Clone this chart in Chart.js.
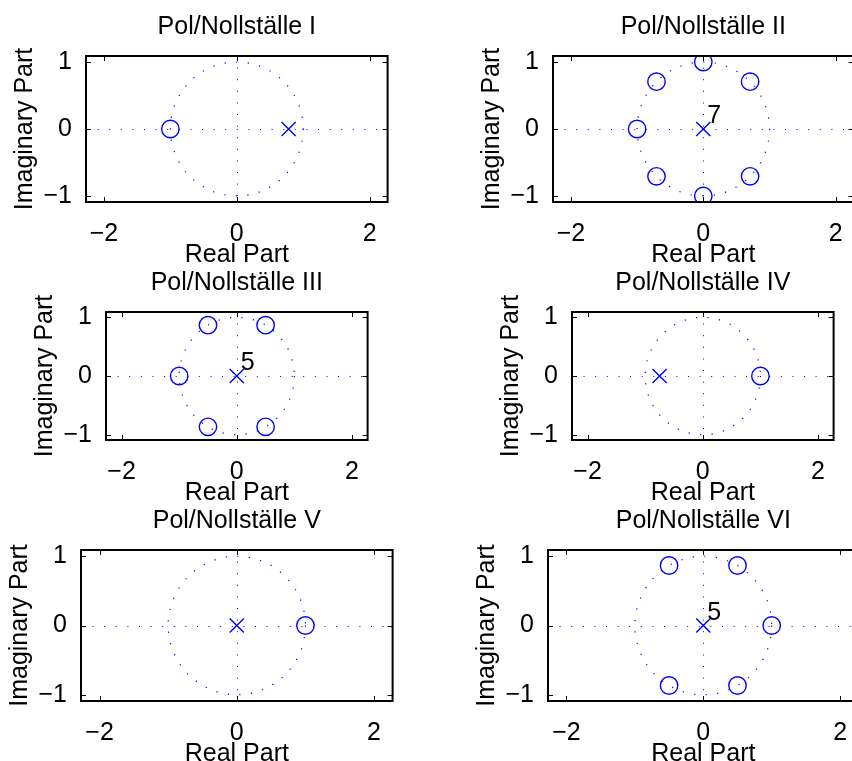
<!DOCTYPE html>
<html>
<head>
<meta charset="utf-8">
<script src="https://cdn.jsdelivr.net/npm/chart.js@4.4.0/dist/chart.umd.min.js"></script>
<style>
  html, body { margin: 0; padding: 0; background: #fff; overflow: hidden; }
  body { width: 852px; height: 761px; position: relative; }
  canvas { position: absolute; }
</style>
</head>
<body>
<canvas id="p0"></canvas>
<canvas id="p1"></canvas>
<canvas id="p2"></canvas>
<canvas id="p3"></canvas>
<canvas id="p4"></canvas>
<canvas id="p5"></canvas>
<script>
const titles = [
  "Pol/Nollställe I", "Pol/Nollställe II", "Pol/Nollställe III",
  "Pol/Nollställe IV", "Pol/Nollställe V", "Pol/Nollställe VI"
];
const xTicks = [-2, 0, 2];
const yTicks = [-1, 0, 1];
const xLimit = 2.27;
const yLimit = 1.09;
const unitRadius = 1;

// zeros (o), real and imaginary parts, one list per plot
const zerosRe = [
  [-1],
  [0, 0.707, -0.707, -1, -0.707, 0.707, 0],
  [0.5, -0.5, -1, -0.5, 0.5],
  [1],
  [1],
  [1, 0.5, -0.5, -0.5, 0.5]
];
const zerosIm = [
  [0],
  [1, 0.707, 0.707, 0, -0.707, -0.707, -1],
  [0.866, 0.866, 0, -0.866, -0.866],
  [0],
  [0],
  [0, 0.866, 0.866, -0.866, -0.866]
];
// poles (x)
const polesRe = [[0.78], [0], [0], [-0.75], [0], [0]];
const polesIm = [[0], [0], [0], [0], [0], [0]];
const poleMultiplicity = ["", "7", "5", "", "", "5"];

// plot box of every axes on the page: left, top, width, height
const boxes = [
  [86, 56, 303, 146], [553, 56, 302, 146],
  [106, 312, 263, 128], [572, 312, 263, 128],
  [81, 550, 313, 151], [548, 550, 312, 151]
];
const yAxisWidth = 80, xAxisHeight = 70, titleHeight = 49, rightPad = 10;
const fontSize = 25;

Chart.defaults.font.family = "'Liberation Sans', Arial, Helvetica, sans-serif";
Chart.defaults.font.size = fontSize;
Chart.defaults.color = "#000";

const dotted = [1.2, 10.4];

const zplane = {
  id: "zplane",
  beforeDatasetsDraw(chart) {
    const { ctx, chartArea: a, scales: { x, y } } = chart;
    const x0 = x.getPixelForValue(0), y0 = y.getPixelForValue(0);
    ctx.save();
    ctx.beginPath();
    ctx.rect(a.left, a.top, a.width, a.height);
    ctx.clip();
    ctx.strokeStyle = "blue";
    ctx.lineWidth = 1.2;
    ctx.setLineDash(dotted);
    // unit circle
    ctx.beginPath();
    ctx.ellipse(x0, y0, x.getPixelForValue(unitRadius) - x0, y0 - y.getPixelForValue(unitRadius), 0, 0, Math.PI * 2);
    ctx.stroke();
    // real and imaginary axes, snapped to the pixel grid
    const hx = Math.round(x0) + 0.5, hy = Math.round(y0) + 0.5;
    ctx.lineWidth = 1;
    ctx.setLineDash([1, 10.6]);
    ctx.beginPath();
    ctx.moveTo(a.left, hy); ctx.lineTo(a.right, hy);
    ctx.moveTo(hx, a.top); ctx.lineTo(hx, a.bottom);
    ctx.stroke();
    ctx.restore();
  },
  afterDatasetsDraw(chart, args, opts) {
    const { ctx, chartArea: a, scales: { x, y } } = chart;
    ctx.save();
    ctx.strokeStyle = "#000";
    ctx.lineWidth = 1;
    ctx.beginPath();
    xTicks.forEach(v => {
      const p = Math.round(x.getPixelForValue(v)) + 0.5;
      ctx.moveTo(p, a.bottom); ctx.lineTo(p, a.bottom - 5);
      ctx.moveTo(p, a.top); ctx.lineTo(p, a.top + 5);
    });
    yTicks.forEach(v => {
      const p = Math.round(y.getPixelForValue(v)) + 0.5;
      ctx.moveTo(a.left, p); ctx.lineTo(a.left + 5, p);
      ctx.moveTo(a.right, p); ctx.lineTo(a.right - 5, p);
    });
    ctx.stroke();
    ctx.lineWidth = 2;
    ctx.strokeRect(a.left, a.top, a.width, a.height);
    // multiplicity of the pole
    if (opts.label) {
      ctx.fillStyle = "#000";
      ctx.font = fontSize + "px 'Liberation Sans', Arial, sans-serif";
      ctx.textAlign = "left";
      ctx.textBaseline = "alphabetic";
      ctx.fillText(opts.label, x.getPixelForValue(opts.re) + 4, y.getPixelForValue(opts.im) - 6);
    }
    ctx.restore();
  }
};

const minusLabel = v => (v < 0 ? "\u2212" + (-v) : String(v));

titles.forEach((title, i) => {
  const [L, T, W, H] = boxes[i];
  const canvas = document.getElementById("p" + i);
  canvas.width = W + yAxisWidth + rightPad;
  canvas.height = H + titleHeight + xAxisHeight;
  canvas.style.left = (L - yAxisWidth) + "px";
  canvas.style.top = (T - titleHeight) + "px";

  new Chart(canvas.getContext("2d"), {
    type: "scatter",
    data: {
      datasets: [
        {
          label: "Zeros",
          data: zerosRe[i].map((re, j) => ({ x: re, y: zerosIm[i][j] })),
          pointStyle: "circle",
          pointRadius: 8.7,
          pointBorderWidth: 1.4,
          borderColor: "blue",
          backgroundColor: "rgba(0,0,0,0)"
        },
        {
          label: "Poles",
          data: polesRe[i].map((re, j) => ({ x: re, y: polesIm[i][j] })),
          pointStyle: "crossRot",
          pointRadius: 10,
          pointBorderWidth: 1.4,
          borderColor: "blue",
          backgroundColor: "rgba(0,0,0,0)"
        }
      ]
    },
    options: {
      responsive: false,
      animation: false,
      events: [],
      layout: { padding: { right: rightPad } },
      scales: {
        x: {
          type: "linear",
          min: -xLimit,
          max: xLimit,
          grid: { display: false },
          border: { display: false },
          afterBuildTicks: s => { s.ticks = xTicks.map(v => ({ value: v })); },
          afterFit: s => { s.height = xAxisHeight; },
          ticks: { padding: 9, maxRotation: 0, callback: minusLabel },
          title: { display: true, text: "Real Part", padding: { top: 0, bottom: 2.3 } }
        },
        y: {
          type: "linear",
          min: -yLimit,
          max: yLimit,
          grid: { display: false },
          border: { display: false },
          afterBuildTicks: s => { s.ticks = yTicks.map(v => ({ value: v })); },
          afterFit: s => { s.width = yAxisWidth; },
          ticks: { padding: 6, callback: minusLabel },
          title: { display: true, text: "Imaginary Part", padding: { top: 4.2, bottom: 0 } }
        }
      },
      plugins: {
        legend: { display: false },
        tooltip: { enabled: false },
        title: {
          display: true,
          text: title,
          fullSize: false,
          font: { size: fontSize, weight: "normal" },
          padding: { top: 5.35, bottom: 13.65 }
        },
        zplane: {
          label: poleMultiplicity[i],
          re: polesRe[i][0],
          im: polesIm[i][0]
        }
      }
    },
    plugins: [zplane]
  });
});
</script>
</body>
</html>
